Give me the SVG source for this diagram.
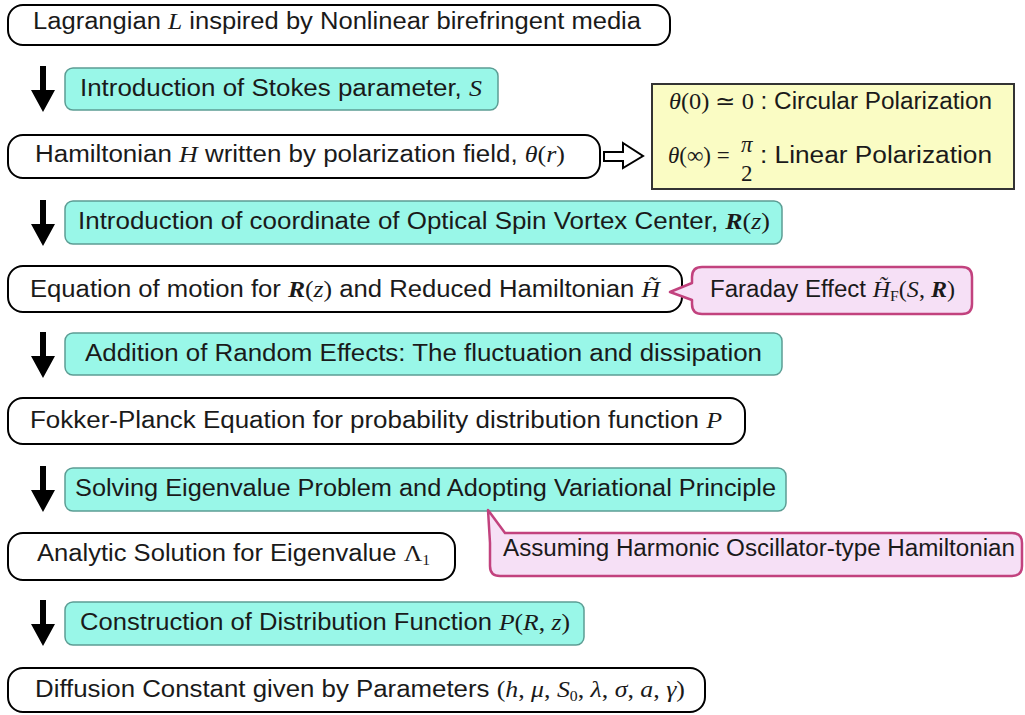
<svg xmlns="http://www.w3.org/2000/svg" width="1025" height="715" viewBox="0 0 1025 715">
<style>
.wb{fill:#fff;stroke:#000;stroke-width:2}
.cb{fill:#99f7e8;stroke:#5c9d94;stroke-width:1.5}
.pk{fill:#f6e0f6;stroke:#c2427e;stroke-width:2.5;stroke-linejoin:round}
.yb{fill:#fafcc4;stroke:#333;stroke-width:2}
.t{font-family:"Liberation Sans","Noto Sans",sans-serif;font-size:23px;fill:#1a1a1a}
.m{font-family:"Liberation Serif",serif;font-style:italic}
.mb{font-family:"Liberation Serif",serif;font-style:italic;font-weight:bold}
.r{font-family:"Liberation Serif",serif}
.ar{fill:#000}
</style>
<defs>
<path id="darrow" d="M-3,0 H3 V24 H12 L0,46 L-12,24 H-3 Z"/>
</defs>
<g id="connectors">
<use href="#darrow" x="43" y="66" class="ar"/>
<use href="#darrow" x="43" y="200" class="ar"/>
<use href="#darrow" x="43" y="332" class="ar"/>
<use href="#darrow" x="43" y="466" class="ar"/>
<use href="#darrow" x="43" y="600" class="ar"/>
<path d="M604,152 H623 V143 L643,156 L623,168 V161 H604 Z" fill="#fff" stroke="#000" stroke-width="2"/>
</g>
<g id="n1"><rect class="wb" x="8" y="5" width="662" height="40" rx="15"/>
<text class="t" x="33" y="29" textLength="608" lengthAdjust="spacingAndGlyphs">Lagrangian <tspan class="m">L</tspan> inspired by Nonlinear birefringent media</text></g>
<g id="c1"><rect class="cb" x="65" y="68" width="433" height="42" rx="8"/>
<text class="t" x="80" y="96" textLength="402" lengthAdjust="spacingAndGlyphs">Introduction of Stokes parameter, <tspan class="m">S</tspan></text></g>
<g id="n2"><rect class="wb" x="8" y="135" width="592" height="43" rx="15"/>
<text class="t" x="35" y="162" textLength="530" lengthAdjust="spacingAndGlyphs">Hamiltonian <tspan class="m">H</tspan> written by polarization field, <tspan class="m">θ</tspan><tspan class="r">(</tspan><tspan class="m">r</tspan><tspan class="r">)</tspan></text></g>
<g id="note"><rect class="yb" x="652" y="84" width="362" height="105"/>
<text class="t" x="669" y="109" textLength="323" lengthAdjust="spacingAndGlyphs"><tspan class="m">θ</tspan><tspan class="r">(0) ≃ 0</tspan> : Circular Polarization</text>
<text class="t" x="668" y="163" font-size="24"><tspan class="m">θ</tspan><tspan class="r">(∞) =</tspan></text>
<text class="t m" x="741" y="152" font-size="24">π</text>
<text class="t r" x="741" y="181" font-size="24">2</text>
<text class="t" x="760" y="163" textLength="232" lengthAdjust="spacingAndGlyphs">: Linear Polarization</text></g>
<g id="c2"><rect class="cb" x="65" y="201" width="717" height="43" rx="8"/>
<text class="t" x="78" y="229" textLength="692" lengthAdjust="spacingAndGlyphs">Introduction of coordinate of Optical Spin Vortex Center, <tspan class="mb">R</tspan><tspan class="r">(</tspan><tspan class="m">z</tspan><tspan class="r">)</tspan></text></g>
<g id="n3"><rect class="wb" x="8" y="266" width="674" height="46" rx="15"/>
<text class="t" x="30" y="297" textLength="630" lengthAdjust="spacingAndGlyphs">Equation of motion for <tspan class="mb">R</tspan><tspan class="r">(</tspan><tspan class="m">z</tspan><tspan class="r">)</tspan> and Reduced Hamiltonian <tspan class="m">H̃</tspan></text></g>
<g id="faraday"><path class="pk" d="M702,267 H962 Q972,267 972,277 V304 Q972,314 962,314 H702 Q692,314 692,304 V300 L670,292 L692,283 V277 Q692,267 702,267 Z"/>
<text class="t" x="710" y="297" textLength="245" lengthAdjust="spacingAndGlyphs">Faraday Effect <tspan class="m">H̃</tspan><tspan class="r" font-size="15" dy="4">F</tspan><tspan class="r" dy="-4">(</tspan><tspan class="m">S</tspan><tspan class="r">, </tspan><tspan class="mb">R</tspan><tspan class="r">)</tspan></text></g>
<g id="c3"><rect class="cb" x="65" y="333" width="717" height="42" rx="8"/>
<text class="t" x="85" y="361" textLength="677" lengthAdjust="spacingAndGlyphs">Addition of Random Effects: The fluctuation and dissipation</text></g>
<g id="n4"><rect class="wb" x="8" y="398" width="737" height="46" rx="15"/>
<text class="t" x="30" y="428" textLength="692" lengthAdjust="spacingAndGlyphs">Fokker-Planck Equation for probability distribution function <tspan class="m">P</tspan></text></g>
<g id="c4"><rect class="cb" x="65" y="468" width="721" height="43" rx="8"/>
<text class="t" x="75" y="496" textLength="701" lengthAdjust="spacingAndGlyphs">Solving Eigenvalue Problem and Adopting Variational Principle</text></g>
<g id="n5"><rect class="wb" x="8" y="533" width="447" height="47" rx="15"/>
<text class="t" x="37" y="561" textLength="393" lengthAdjust="spacingAndGlyphs">Analytic Solution for Eigenvalue <tspan class="r">Λ</tspan><tspan class="r" font-size="14" dy="4">1</tspan></text></g>
<g id="assume"><path class="pk" d="M505,533 H1012 Q1022,533 1022,543 V566 Q1022,576 1012,576 H500 Q490,576 490,566 V543 L488,510 Z"/>
<text class="t" x="503" y="556" textLength="512" lengthAdjust="spacingAndGlyphs">Assuming Harmonic Oscillator-type Hamiltonian</text></g>
<g id="c5"><rect class="cb" x="65" y="602" width="519" height="43" rx="8"/>
<text class="t" x="80" y="630" textLength="490" lengthAdjust="spacingAndGlyphs">Construction of Distribution Function <tspan class="m">P</tspan><tspan class="r">(</tspan><tspan class="m">R</tspan><tspan class="r">, </tspan><tspan class="m">z</tspan><tspan class="r">)</tspan></text></g>
<g id="n6"><rect class="wb" x="8" y="668" width="697" height="44" rx="15"/>
<text class="t" x="35" y="697" textLength="650" lengthAdjust="spacingAndGlyphs">Diffusion Constant given by Parameters <tspan class="r">(</tspan><tspan class="m">h</tspan><tspan class="r">, </tspan><tspan class="m">μ</tspan><tspan class="r">, </tspan><tspan class="m">S</tspan><tspan class="r" font-size="14" dy="4">0</tspan><tspan class="r" dy="-4">, </tspan><tspan class="m">λ</tspan><tspan class="r">, </tspan><tspan class="m">σ</tspan><tspan class="r">, </tspan><tspan class="m">a</tspan><tspan class="r">, </tspan><tspan class="m">γ</tspan><tspan class="r">)</tspan></text></g>
</svg>
